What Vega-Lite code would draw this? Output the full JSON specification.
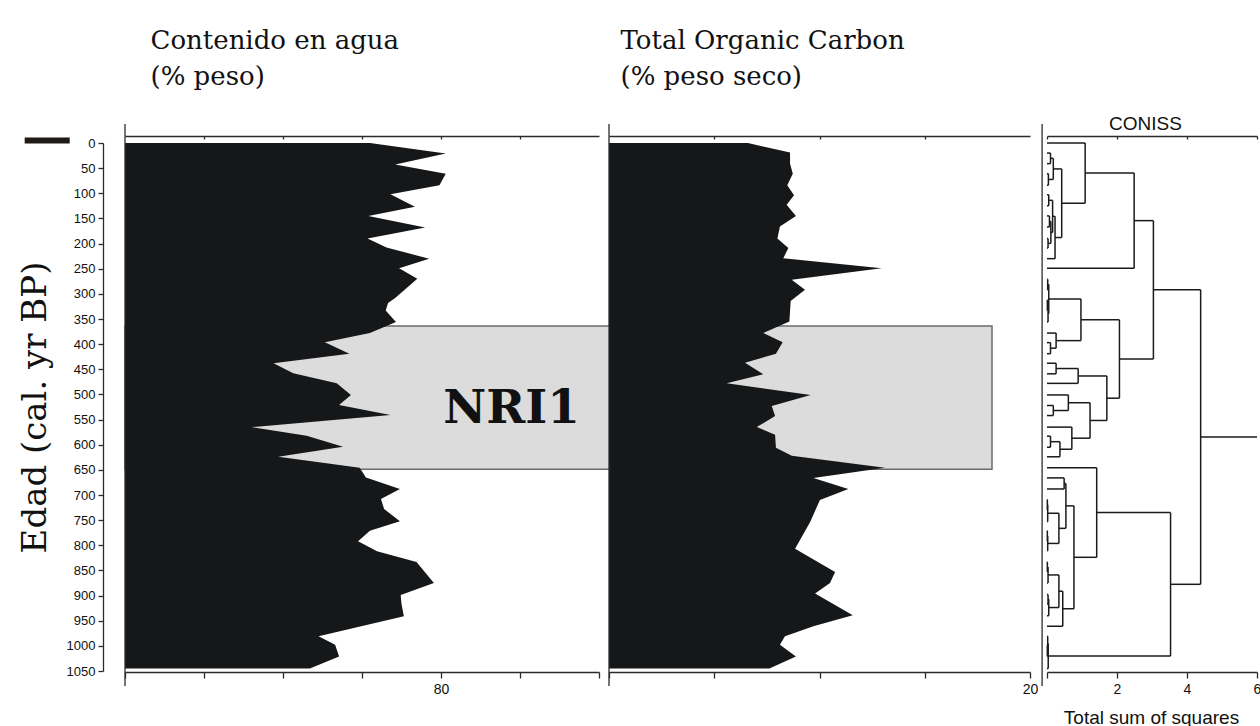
{
  "$schema": "https://vega.github.io/schema/vega-lite/v6.json",
  "width": 1132,
  "height": 528,
  "autosize": {"type": "none"},
  "padding": {"left": 125, "top": 143, "right": 3, "bottom": 55},
  "background": "white",
  "config": {
    "view": {"stroke": null},
    "axis": {
      "grid": false,
      "domainColor": "#2b2b2b",
      "domainWidth": 1.3,
      "tickColor": "#2b2b2b",
      "tickWidth": 1.3,
      "labelFont": "Liberation Sans",
      "labelFontSize": 14,
      "labelColor": "#111111",
      "labelFlush": false,
      "labelOverlap": false,
      "titleColor": "#111111",
      "titleFontWeight": "normal"
    }
  },
  "datasets": {
    "water": [
      {"age": 0, "pct": 71.0}, {"age": 21, "pct": 80.6}, {"age": 43, "pct": 74.2}, {"age": 61, "pct": 80.6},
      {"age": 84, "pct": 79.8}, {"age": 102, "pct": 73.6}, {"age": 127, "pct": 76.7}, {"age": 145, "pct": 70.8},
      {"age": 168, "pct": 78.0}, {"age": 190, "pct": 70.7}, {"age": 208, "pct": 73.1}, {"age": 230, "pct": 78.5},
      {"age": 249, "pct": 74.7}, {"age": 270, "pct": 77.0}, {"age": 308, "pct": 74.2}, {"age": 318, "pct": 73.3},
      {"age": 333, "pct": 73.0}, {"age": 356, "pct": 74.3}, {"age": 378, "pct": 71.0}, {"age": 396, "pct": 65.3},
      {"age": 419, "pct": 68.4}, {"age": 438, "pct": 58.8}, {"age": 458, "pct": 61.3}, {"age": 478, "pct": 66.8},
      {"age": 501, "pct": 68.6}, {"age": 521, "pct": 67.1}, {"age": 541, "pct": 73.6}, {"age": 565, "pct": 56.0},
      {"age": 582, "pct": 63.0}, {"age": 604, "pct": 67.6}, {"age": 624, "pct": 59.4}, {"age": 646, "pct": 69.7},
      {"age": 665, "pct": 70.5}, {"age": 688, "pct": 74.8}, {"age": 708, "pct": 72.4}, {"age": 728, "pct": 72.8},
      {"age": 752, "pct": 74.8}, {"age": 771, "pct": 71.0}, {"age": 792, "pct": 69.5}, {"age": 812, "pct": 71.9},
      {"age": 833, "pct": 76.9}, {"age": 875, "pct": 79.1}, {"age": 899, "pct": 74.9}, {"age": 917, "pct": 75.0},
      {"age": 941, "pct": 75.3}, {"age": 981, "pct": 64.5}, {"age": 998, "pct": 66.6}, {"age": 1021, "pct": 67.1},
      {"age": 1045, "pct": 63.4}
    ],
    "toc": [
      {"age": 0, "pct": 6.6}, {"age": 19, "pct": 8.6}, {"age": 41, "pct": 8.6}, {"age": 61, "pct": 8.73},
      {"age": 84, "pct": 8.47}, {"age": 104, "pct": 8.79}, {"age": 123, "pct": 8.44}, {"age": 145, "pct": 8.88},
      {"age": 166, "pct": 8.12}, {"age": 190, "pct": 8.0}, {"age": 209, "pct": 8.52}, {"age": 229, "pct": 8.28},
      {"age": 249, "pct": 12.95}, {"age": 272, "pct": 8.68}, {"age": 292, "pct": 9.31}, {"age": 314, "pct": 8.63},
      {"age": 355, "pct": 8.57}, {"age": 378, "pct": 7.33}, {"age": 396, "pct": 8.25}, {"age": 419, "pct": 7.93},
      {"age": 437, "pct": 6.46}, {"age": 460, "pct": 7.33}, {"age": 478, "pct": 5.59}, {"age": 501, "pct": 9.58},
      {"age": 523, "pct": 7.73}, {"age": 543, "pct": 7.89}, {"age": 565, "pct": 7.02}, {"age": 580, "pct": 7.89},
      {"age": 606, "pct": 7.93}, {"age": 622, "pct": 8.68}, {"age": 646, "pct": 13.11}, {"age": 666, "pct": 9.71},
      {"age": 688, "pct": 11.37}, {"age": 710, "pct": 10.02}, {"age": 754, "pct": 9.55}, {"age": 807, "pct": 8.84},
      {"age": 853, "pct": 10.74}, {"age": 875, "pct": 10.5}, {"age": 896, "pct": 9.79}, {"age": 939, "pct": 11.58},
      {"age": 961, "pct": 9.71}, {"age": 981, "pct": 8.36}, {"age": 998, "pct": 8.12}, {"age": 1021, "pct": 8.88},
      {"age": 1045, "pct": 7.62}
    ],
    "zones": [{"zone": "NRI1", "start": 364, "end": 649}],
    "coniss": [
      {"h1": 0.10, "h2": 0.10, "a1": 20, "a2": 41}, {"h1": 0, "h2": 0.10, "a1": 20, "a2": 20}, {"h1": 0, "h2": 0.10, "a1": 41, "a2": 41},
      {"h1": 0.04, "h2": 0.04, "a1": 61, "a2": 84}, {"h1": 0, "h2": 0.04, "a1": 61, "a2": 61}, {"h1": 0, "h2": 0.04, "a1": 84, "a2": 84},
      {"h1": 0.18, "h2": 0.18, "a1": 30.5, "a2": 72.5}, {"h1": 0.10, "h2": 0.18, "a1": 30.5, "a2": 30.5}, {"h1": 0.04, "h2": 0.18, "a1": 72.5, "a2": 72.5},
      {"h1": 0.05, "h2": 0.05, "a1": 103, "a2": 125}, {"h1": 0, "h2": 0.05, "a1": 103, "a2": 103}, {"h1": 0, "h2": 0.05, "a1": 125, "a2": 125},
      {"h1": 0.07, "h2": 0.07, "a1": 145, "a2": 167}, {"h1": 0, "h2": 0.07, "a1": 145, "a2": 145}, {"h1": 0, "h2": 0.07, "a1": 167, "a2": 167},
      {"h1": 0.03, "h2": 0.03, "a1": 190, "a2": 209}, {"h1": 0, "h2": 0.03, "a1": 190, "a2": 190}, {"h1": 0, "h2": 0.03, "a1": 209, "a2": 209},
      {"h1": 0.11, "h2": 0.11, "a1": 156, "a2": 199.5}, {"h1": 0.07, "h2": 0.11, "a1": 156, "a2": 156}, {"h1": 0.03, "h2": 0.11, "a1": 199.5, "a2": 199.5},
      {"h1": 0.16, "h2": 0.16, "a1": 114, "a2": 177.8}, {"h1": 0.05, "h2": 0.16, "a1": 114, "a2": 114}, {"h1": 0.11, "h2": 0.16, "a1": 177.8, "a2": 177.8},
      {"h1": 0.23, "h2": 0.23, "a1": 145.9, "a2": 230}, {"h1": 0.16, "h2": 0.23, "a1": 145.9, "a2": 145.9}, {"h1": 0, "h2": 0.23, "a1": 230, "a2": 230},
      {"h1": 0.42, "h2": 0.42, "a1": 51.5, "a2": 188}, {"h1": 0.18, "h2": 0.42, "a1": 51.5, "a2": 51.5}, {"h1": 0.23, "h2": 0.42, "a1": 188, "a2": 188},
      {"h1": 1.09, "h2": 1.09, "a1": 0, "a2": 119.8}, {"h1": 0, "h2": 1.09, "a1": 0, "a2": 0}, {"h1": 0.42, "h2": 1.09, "a1": 119.8, "a2": 119.8},
      {"h1": 2.49, "h2": 2.49, "a1": 59.9, "a2": 249}, {"h1": 1.09, "h2": 2.49, "a1": 59.9, "a2": 59.9}, {"h1": 0, "h2": 2.49, "a1": 249, "a2": 249},
      {"h1": 0.02, "h2": 0.02, "a1": 271, "a2": 292}, {"h1": 0, "h2": 0.02, "a1": 271, "a2": 271}, {"h1": 0, "h2": 0.02, "a1": 292, "a2": 292},
      {"h1": 0.01, "h2": 0.01, "a1": 312, "a2": 333}, {"h1": 0, "h2": 0.01, "a1": 312, "a2": 312}, {"h1": 0, "h2": 0.01, "a1": 333, "a2": 333},
      {"h1": 0.03, "h2": 0.03, "a1": 322.5, "a2": 356}, {"h1": 0.01, "h2": 0.03, "a1": 322.5, "a2": 322.5}, {"h1": 0, "h2": 0.03, "a1": 356, "a2": 356},
      {"h1": 0.05, "h2": 0.05, "a1": 281.5, "a2": 339.3}, {"h1": 0.02, "h2": 0.05, "a1": 281.5, "a2": 281.5}, {"h1": 0.03, "h2": 0.05, "a1": 339.3, "a2": 339.3},
      {"h1": 0.10, "h2": 0.10, "a1": 397, "a2": 419}, {"h1": 0, "h2": 0.10, "a1": 397, "a2": 397}, {"h1": 0, "h2": 0.10, "a1": 419, "a2": 419},
      {"h1": 0.26, "h2": 0.26, "a1": 378, "a2": 408}, {"h1": 0, "h2": 0.26, "a1": 378, "a2": 378}, {"h1": 0.10, "h2": 0.26, "a1": 408, "a2": 408},
      {"h1": 0.97, "h2": 0.97, "a1": 310.4, "a2": 393}, {"h1": 0.05, "h2": 0.97, "a1": 310.4, "a2": 310.4}, {"h1": 0.26, "h2": 0.97, "a1": 393, "a2": 393},
      {"h1": 0.26, "h2": 0.26, "a1": 438, "a2": 459}, {"h1": 0, "h2": 0.26, "a1": 438, "a2": 438}, {"h1": 0, "h2": 0.26, "a1": 459, "a2": 459},
      {"h1": 0.89, "h2": 0.89, "a1": 448.5, "a2": 478}, {"h1": 0.26, "h2": 0.89, "a1": 448.5, "a2": 448.5}, {"h1": 0, "h2": 0.89, "a1": 478, "a2": 478},
      {"h1": 0.18, "h2": 0.18, "a1": 522, "a2": 542}, {"h1": 0, "h2": 0.18, "a1": 522, "a2": 522}, {"h1": 0, "h2": 0.18, "a1": 542, "a2": 542},
      {"h1": 0.61, "h2": 0.61, "a1": 501, "a2": 532}, {"h1": 0, "h2": 0.61, "a1": 501, "a2": 501}, {"h1": 0.18, "h2": 0.61, "a1": 532, "a2": 532},
      {"h1": 0.10, "h2": 0.10, "a1": 583, "a2": 605}, {"h1": 0, "h2": 0.10, "a1": 583, "a2": 583}, {"h1": 0, "h2": 0.10, "a1": 605, "a2": 605},
      {"h1": 0.37, "h2": 0.37, "a1": 594, "a2": 624}, {"h1": 0.10, "h2": 0.37, "a1": 594, "a2": 594}, {"h1": 0, "h2": 0.37, "a1": 624, "a2": 624},
      {"h1": 0.71, "h2": 0.71, "a1": 565, "a2": 609}, {"h1": 0, "h2": 0.71, "a1": 565, "a2": 565}, {"h1": 0.37, "h2": 0.71, "a1": 609, "a2": 609},
      {"h1": 1.23, "h2": 1.23, "a1": 516.5, "a2": 587}, {"h1": 0.61, "h2": 1.23, "a1": 516.5, "a2": 516.5}, {"h1": 0.71, "h2": 1.23, "a1": 587, "a2": 587},
      {"h1": 1.71, "h2": 1.71, "a1": 463.3, "a2": 551.8}, {"h1": 0.89, "h2": 1.71, "a1": 463.3, "a2": 463.3}, {"h1": 1.23, "h2": 1.71, "a1": 551.8, "a2": 551.8},
      {"h1": 2.07, "h2": 2.07, "a1": 351.7, "a2": 507.5}, {"h1": 0.97, "h2": 2.07, "a1": 351.7, "a2": 351.7}, {"h1": 1.71, "h2": 2.07, "a1": 507.5, "a2": 507.5},
      {"h1": 3.04, "h2": 3.04, "a1": 154.4, "a2": 429.6}, {"h1": 2.49, "h2": 3.04, "a1": 154.4, "a2": 154.4}, {"h1": 2.07, "h2": 3.04, "a1": 429.6, "a2": 429.6},
      {"h1": 0.49, "h2": 0.49, "a1": 666, "a2": 688}, {"h1": 0, "h2": 0.49, "a1": 666, "a2": 666}, {"h1": 0, "h2": 0.49, "a1": 688, "a2": 688},
      {"h1": 0.01, "h2": 0.01, "a1": 709, "a2": 730}, {"h1": 0, "h2": 0.01, "a1": 709, "a2": 709}, {"h1": 0, "h2": 0.01, "a1": 730, "a2": 730},
      {"h1": 0.02, "h2": 0.02, "a1": 719.5, "a2": 753}, {"h1": 0.01, "h2": 0.02, "a1": 719.5, "a2": 719.5}, {"h1": 0, "h2": 0.02, "a1": 753, "a2": 753},
      {"h1": 0.01, "h2": 0.01, "a1": 771, "a2": 792}, {"h1": 0, "h2": 0.01, "a1": 771, "a2": 771}, {"h1": 0, "h2": 0.01, "a1": 792, "a2": 792},
      {"h1": 0.02, "h2": 0.02, "a1": 781.5, "a2": 811}, {"h1": 0.01, "h2": 0.02, "a1": 781.5, "a2": 781.5}, {"h1": 0, "h2": 0.02, "a1": 811, "a2": 811},
      {"h1": 0.34, "h2": 0.34, "a1": 736.3, "a2": 796.3}, {"h1": 0.02, "h2": 0.34, "a1": 736.3, "a2": 736.3}, {"h1": 0.02, "h2": 0.34, "a1": 796.3, "a2": 796.3},
      {"h1": 0.54, "h2": 0.54, "a1": 677, "a2": 766.3}, {"h1": 0.49, "h2": 0.54, "a1": 677, "a2": 677}, {"h1": 0.34, "h2": 0.54, "a1": 766.3, "a2": 766.3},
      {"h1": 0.01, "h2": 0.01, "a1": 833, "a2": 853}, {"h1": 0, "h2": 0.01, "a1": 833, "a2": 833}, {"h1": 0, "h2": 0.01, "a1": 853, "a2": 853},
      {"h1": 0.03, "h2": 0.03, "a1": 843, "a2": 875}, {"h1": 0.01, "h2": 0.03, "a1": 843, "a2": 843}, {"h1": 0, "h2": 0.03, "a1": 875, "a2": 875},
      {"h1": 0.03, "h2": 0.03, "a1": 898, "a2": 917}, {"h1": 0, "h2": 0.03, "a1": 898, "a2": 898}, {"h1": 0, "h2": 0.03, "a1": 917, "a2": 917},
      {"h1": 0.05, "h2": 0.05, "a1": 907.5, "a2": 940}, {"h1": 0.03, "h2": 0.05, "a1": 907.5, "a2": 907.5}, {"h1": 0, "h2": 0.05, "a1": 940, "a2": 940},
      {"h1": 0.34, "h2": 0.34, "a1": 859, "a2": 923.8}, {"h1": 0.03, "h2": 0.34, "a1": 859, "a2": 859}, {"h1": 0.05, "h2": 0.34, "a1": 923.8, "a2": 923.8},
      {"h1": 0.45, "h2": 0.45, "a1": 891.4, "a2": 961}, {"h1": 0.34, "h2": 0.45, "a1": 891.4, "a2": 891.4}, {"h1": 0, "h2": 0.45, "a1": 961, "a2": 961},
      {"h1": 0.77, "h2": 0.77, "a1": 721.6, "a2": 926.2}, {"h1": 0.54, "h2": 0.77, "a1": 721.6, "a2": 721.6}, {"h1": 0.45, "h2": 0.77, "a1": 926.2, "a2": 926.2},
      {"h1": 1.42, "h2": 1.42, "a1": 646, "a2": 823.9}, {"h1": 0, "h2": 1.42, "a1": 646, "a2": 646}, {"h1": 0.77, "h2": 1.42, "a1": 823.9, "a2": 823.9},
      {"h1": 0.01, "h2": 0.01, "a1": 999, "a2": 1021}, {"h1": 0, "h2": 0.01, "a1": 999, "a2": 999}, {"h1": 0, "h2": 0.01, "a1": 1021, "a2": 1021},
      {"h1": 0.02, "h2": 0.02, "a1": 981, "a2": 1010}, {"h1": 0, "h2": 0.02, "a1": 981, "a2": 981}, {"h1": 0.01, "h2": 0.02, "a1": 1010, "a2": 1010},
      {"h1": 0.035, "h2": 0.035, "a1": 995.5, "a2": 1045}, {"h1": 0.02, "h2": 0.035, "a1": 995.5, "a2": 995.5}, {"h1": 0, "h2": 0.035, "a1": 1045, "a2": 1045},
      {"h1": 3.53, "h2": 3.53, "a1": 735, "a2": 1020.3}, {"h1": 1.42, "h2": 3.53, "a1": 735, "a2": 735}, {"h1": 0.035, "h2": 3.53, "a1": 1020.3, "a2": 1020.3},
      {"h1": 4.39, "h2": 4.39, "a1": 292, "a2": 877.6}, {"h1": 3.04, "h2": 4.39, "a1": 292, "a2": 292}, {"h1": 3.53, "h2": 4.39, "a1": 877.6, "a2": 877.6},
      {"h1": 4.39, "h2": 6.0, "a1": 584.8, "a2": 584.8}
    ]
  },
  "resolve": {"scale": {"x": "independent"}, "axis": {"x": "independent"}},
  "layer": [
    {
      "data": {"name": "zones"},
      "mark": {"type": "rect", "fill": "#dcdcdc", "stroke": "#6b6b6b", "strokeWidth": 1.5},
      "encoding": {
        "x": {"datum": 0, "type": "quantitative", "scale": {"domain": [0, 1], "range": [0, 867], "nice": false, "zero": false}, "axis": null},
        "x2": {"datum": 1},
        "y": {"field": "start", "type": "quantitative", "scale": {"domain": [0, 1050], "reverse": true, "nice": false, "zero": false},
          "axis": {"orient": "left", "offset": 22, "values": [0, 50, 100, 150, 200, 250, 300, 350, 400, 450, 500, 550, 600, 650, 700, 750, 800, 850, 900, 950, 1000, 1050], "format": "d", "tickSize": 5, "labelPadding": 3, "labelFontSize": 13, "title": "Edad (cal. yr BP)", "titleFont": "DejaVu Serif", "titleFontSize": 34, "titleAngle": 270, "titleBaseline": "alphabetic", "titleAlign": "center", "titleX": -58, "titleY": 264}},
        "y2": {"field": "end"}
      }
    },
    {
      "data": {"name": "water"},
      "mark": {"type": "area", "orient": "horizontal", "color": "#161719"},
      "encoding": {
        "y": {"field": "age", "type": "quantitative", "scale": {"domain": [0, 1050], "reverse": true, "nice": false, "zero": false},
          "axis": {"orient": "left", "offset": 22, "values": [0, 50, 100, 150, 200, 250, 300, 350, 400, 450, 500, 550, 600, 650, 700, 750, 800, 850, 900, 950, 1000, 1050], "format": "d", "tickSize": 5, "labelPadding": 3, "labelFontSize": 13, "title": "Edad (cal. yr BP)", "titleFont": "DejaVu Serif", "titleFontSize": 34, "titleAngle": 270, "titleBaseline": "alphabetic", "titleAlign": "center", "titleX": -58, "titleY": 264}},
        "x": {
          "field": "pct", "type": "quantitative",
          "scale": {"domain": [40, 100], "range": [0, 474], "nice": false, "zero": false},
          "axis": {"orient": "bottom", "offset": 1, "values": [40, 50, 60, 70, 80, 90, 100], "labelExpr": "datum.value == 80 ? '80' : ''", "tickSize": 6, "labelPadding": 4, "title": null}
        },
        "x2": {"datum": 40}
      }
    },
    {
      "data": {"name": "toc"},
      "mark": {"type": "area", "orient": "horizontal", "color": "#161719"},
      "encoding": {
        "y": {"field": "age", "type": "quantitative", "scale": {"domain": [0, 1050], "reverse": true, "nice": false, "zero": false},
          "axis": {"orient": "left", "offset": 22, "values": [0, 50, 100, 150, 200, 250, 300, 350, 400, 450, 500, 550, 600, 650, 700, 750, 800, 850, 900, 950, 1000, 1050], "format": "d", "tickSize": 5, "labelPadding": 3, "labelFontSize": 13, "title": "Edad (cal. yr BP)", "titleFont": "DejaVu Serif", "titleFontSize": 34, "titleAngle": 270, "titleBaseline": "alphabetic", "titleAlign": "center", "titleX": -58, "titleY": 264}},
        "x": {
          "field": "pct", "type": "quantitative",
          "scale": {"domain": [0, 20], "range": [484, 905], "nice": false, "zero": false},
          "axis": {"orient": "bottom", "offset": 1, "values": [0, 5, 10, 15, 20], "labelExpr": "datum.value == 20 ? '20' : ''", "tickSize": 6, "labelPadding": 4, "title": null}
        },
        "x2": {"datum": 0}
      }
    },
    {
      "data": {"name": "zones"},
      "mark": {"type": "text", "text": "NRI1", "font": "DejaVu Serif", "fontWeight": "bold", "fontSize": 47, "color": "#111111", "align": "center", "baseline": "middle"},
      "encoding": {
        "x": {"datum": 0.446, "type": "quantitative", "scale": {"domain": [0, 1], "range": [0, 867], "nice": false, "zero": false}, "axis": null},
        "y": {"datum": 528, "type": "quantitative", "scale": {"domain": [0, 1050], "reverse": true, "nice": false, "zero": false},
          "axis": {"orient": "left", "offset": 22, "values": [0, 50, 100, 150, 200, 250, 300, 350, 400, 450, 500, 550, 600, 650, 700, 750, 800, 850, 900, 950, 1000, 1050], "format": "d", "tickSize": 5, "labelPadding": 3, "labelFontSize": 13, "title": "Edad (cal. yr BP)", "titleFont": "DejaVu Serif", "titleFontSize": 34, "titleAngle": 270, "titleBaseline": "alphabetic", "titleAlign": "center", "titleX": -58, "titleY": 264}}
      }
    },
    {
      "data": {"name": "coniss"},
      "mark": {"type": "rule", "color": "#1a1a1a", "strokeWidth": 1.5},
      "encoding": {
        "x": {
          "field": "h1", "type": "quantitative",
          "scale": {"domain": [0, 6], "range": [922, 1132], "nice": false, "zero": false},
          "axis": {"orient": "bottom", "offset": 1, "values": [0, 2, 4, 6], "labelExpr": "datum.value == 0 ? '' : datum.label", "tickSize": 6, "labelPadding": 4, "title": "Total sum of squares", "titleFont": "Liberation Sans", "titleFontSize": 19, "titleAlign": "center", "titleBaseline": "alphabetic", "titleX": 1026, "titleY": 51}
        },
        "x2": {"field": "h2"},
        "y": {"field": "a1", "type": "quantitative", "scale": {"domain": [0, 1050], "reverse": true, "nice": false, "zero": false},
          "axis": {"orient": "left", "offset": 22, "values": [0, 50, 100, 150, 200, 250, 300, 350, 400, 450, 500, 550, 600, 650, 700, 750, 800, 850, 900, 950, 1000, 1050], "format": "d", "tickSize": 5, "labelPadding": 3, "labelFontSize": 13, "title": "Edad (cal. yr BP)", "titleFont": "DejaVu Serif", "titleFontSize": 34, "titleAngle": 270, "titleBaseline": "alphabetic", "titleAlign": "center", "titleX": -58, "titleY": 264}},
        "y2": {"field": "a2"}
      }
    },
    {
      "data": {"values": [{"panel": "water"}]},
      "mark": {"type": "rule", "color": "#2b2b2b", "strokeWidth": 1.3},
      "encoding": {
        "x": {
          "datum": 40, "type": "quantitative",
          "scale": {"domain": [40, 100], "range": [0, 474], "nice": false, "zero": false},
          "axis": {"orient": "top", "offset": 7, "values": [50, 60, 70, 80, 90], "labels": false, "tickSize": -3, "title": ["Contenido en agua", "(% peso)"], "titleFont": "DejaVu Serif", "titleFontSize": 26, "titleAlign": "left", "titleAnchor": "start", "titleBaseline": "alphabetic", "titleLineHeight": 36, "titleX": 25, "titleY": -88}
        },
        "y": {"datum": -38, "type": "quantitative", "scale": {"domain": [0, 1050], "reverse": true, "nice": false, "zero": false},
          "axis": {"orient": "left", "offset": 22, "values": [0, 50, 100, 150, 200, 250, 300, 350, 400, 450, 500, 550, 600, 650, 700, 750, 800, 850, 900, 950, 1000, 1050], "format": "d", "tickSize": 5, "labelPadding": 3, "labelFontSize": 13, "title": "Edad (cal. yr BP)", "titleFont": "DejaVu Serif", "titleFontSize": 34, "titleAngle": 270, "titleBaseline": "alphabetic", "titleAlign": "center", "titleX": -58, "titleY": 264}},
        "y2": {"datum": 1080}
      }
    },
    {
      "data": {"values": [{"panel": "toc"}]},
      "mark": {"type": "rule", "color": "#2b2b2b", "strokeWidth": 1.3},
      "encoding": {
        "x": {
          "datum": 0, "type": "quantitative",
          "scale": {"domain": [0, 20], "range": [484, 905], "nice": false, "zero": false},
          "axis": {"orient": "top", "offset": 7, "values": [5, 10, 15], "labels": false, "tickSize": -3, "title": ["Total Organic Carbon", "(% peso seco)"], "titleFont": "DejaVu Serif", "titleFontSize": 26, "titleAlign": "left", "titleAnchor": "start", "titleBaseline": "alphabetic", "titleLineHeight": 36, "titleX": 495, "titleY": -88}
        },
        "y": {"datum": -38, "type": "quantitative", "scale": {"domain": [0, 1050], "reverse": true, "nice": false, "zero": false},
          "axis": {"orient": "left", "offset": 22, "values": [0, 50, 100, 150, 200, 250, 300, 350, 400, 450, 500, 550, 600, 650, 700, 750, 800, 850, 900, 950, 1000, 1050], "format": "d", "tickSize": 5, "labelPadding": 3, "labelFontSize": 13, "title": "Edad (cal. yr BP)", "titleFont": "DejaVu Serif", "titleFontSize": 34, "titleAngle": 270, "titleBaseline": "alphabetic", "titleAlign": "center", "titleX": -58, "titleY": 264}},
        "y2": {"datum": 1080}
      }
    },
    {
      "data": {"values": [{"panel": "coniss"}]},
      "mark": {"type": "rule", "color": "#2b2b2b", "strokeWidth": 1.3},
      "encoding": {
        "x": {
          "datum": -0.14, "type": "quantitative",
          "scale": {"domain": [0, 6], "range": [922, 1132], "nice": false, "zero": false},
          "axis": {"orient": "top", "offset": 7, "values": [0, 2, 4, 6], "labels": false, "tickSize": -3, "title": "CONISS", "titleFont": "Liberation Sans", "titleFontSize": 19, "titleAlign": "center", "titleBaseline": "alphabetic", "titleX": 1020, "titleY": -7}
        },
        "y": {"datum": -38, "type": "quantitative", "scale": {"domain": [0, 1050], "reverse": true, "nice": false, "zero": false},
          "axis": {"orient": "left", "offset": 22, "values": [0, 50, 100, 150, 200, 250, 300, 350, 400, 450, 500, 550, 600, 650, 700, 750, 800, 850, 900, 950, 1000, 1050], "format": "d", "tickSize": 5, "labelPadding": 3, "labelFontSize": 13, "title": "Edad (cal. yr BP)", "titleFont": "DejaVu Serif", "titleFontSize": 34, "titleAngle": 270, "titleBaseline": "alphabetic", "titleAlign": "center", "titleX": -58, "titleY": 264}},
        "y2": {"datum": 1080}
      }
    },
    {
      "data": {"values": [{"marker": "top"}]},
      "mark": {"type": "rule", "color": "#1f1a16", "strokeWidth": 6},
      "encoding": {
        "x": {"datum": 27.3, "type": "quantitative", "scale": {"domain": [40, 100], "range": [0, 474], "nice": false, "zero": false}, "axis": null},
        "x2": {"datum": 33.0},
        "y": {"datum": -5, "type": "quantitative", "scale": {"domain": [0, 1050], "reverse": true, "nice": false, "zero": false},
          "axis": {"orient": "left", "offset": 22, "values": [0, 50, 100, 150, 200, 250, 300, 350, 400, 450, 500, 550, 600, 650, 700, 750, 800, 850, 900, 950, 1000, 1050], "format": "d", "tickSize": 5, "labelPadding": 3, "labelFontSize": 13, "title": "Edad (cal. yr BP)", "titleFont": "DejaVu Serif", "titleFontSize": 34, "titleAngle": 270, "titleBaseline": "alphabetic", "titleAlign": "center", "titleX": -58, "titleY": 264}}
      }
    }
  ]
}
